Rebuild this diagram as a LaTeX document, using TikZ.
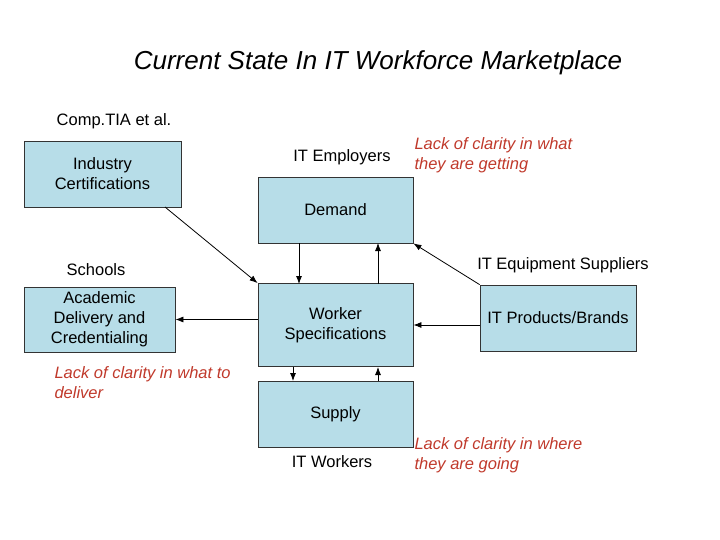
\documentclass[tikz,border=0pt]{standalone}
\usepackage{fontspec}
\usetikzlibrary{arrows.meta}
\setmainfont{Liberation Sans}
\definecolor{boxfill}{HTML}{B7DDE8}
\definecolor{redtxt}{HTML}{C0392B}
\begin{document}
\begin{tikzpicture}[x=1pt,y=-1pt,
  bx/.style={draw=black!80,fill=boxfill,line width=0.8pt,align=center,font=\fontsize{16.5}{20}\selectfont},
  lbl/.style={font=\fontsize{16.5}{20}\selectfont,align=left},
  red/.style={font=\fontsize{16.5}{20}\selectfont\itshape,text=redtxt,align=left,anchor=west},
  ar/.style={-{Latex[length=8pt,width=6pt]},line width=0.8pt}]
\useasboundingbox (0,0) rectangle (720,540);
\node[font=\fontsize{26}{30}\selectfont\itshape] (title) at (378,63) {Current State In IT Workforce Marketplace};
\node[bx,minimum width=157,minimum height=66] (cert) at (102.5,174) {Industry\\Certifications};
\node[bx,minimum width=155,minimum height=66] (demand) at (335.5,210) {Demand};
\node[bx,minimum width=151,minimum height=65] (acad) at (99.5,319.5) {Academic\\Delivery and\\Credentialing};
\node[bx,minimum width=155,minimum height=83] (spec) at (335.5,325) {Worker\\Specifications};
\node[bx,minimum width=156,minimum height=66] (prod) at (558,318) {IT Products/Brands};
\node[bx,minimum width=155,minimum height=66] (supply) at (335.5,414) {Supply};
\node[lbl] (comp) at (114,121) {Comp.TIA et al.};
\node[lbl] (emp) at (342,157) {IT Employers};
\node[red] (r1) at (411,155) {Lack of clarity in what\\they are getting};
\node[lbl] (sch) at (96,270) {Schools};
\node[lbl] (sup) at (563,265) {IT Equipment Suppliers};
\node[red] (r2) at (51,383) {Lack of clarity in what to\\deliver};
\node[lbl] (wk) at (332,462) {IT Workers};
\node[red] (r3) at (411,455) {Lack of clarity in where\\they are going};
\coordinate (c1) at (165,207);
\draw[ar] (c1) -- (spec.north west);
\draw[ar] (spec.west |- acad.east) -- (acad.east);
\draw[ar] (prod.west |- spec.east) -- (spec.east);
\draw[ar] (prod.north west) -- (demand.south east);
\draw[ar] (299,243) -- (299,284);
\draw[ar] (378,284) -- (378,243);
\draw[ar] (293,367) -- (293,381);
\draw[ar] (378,381) -- (378,367);
\end{tikzpicture}
\end{document}
